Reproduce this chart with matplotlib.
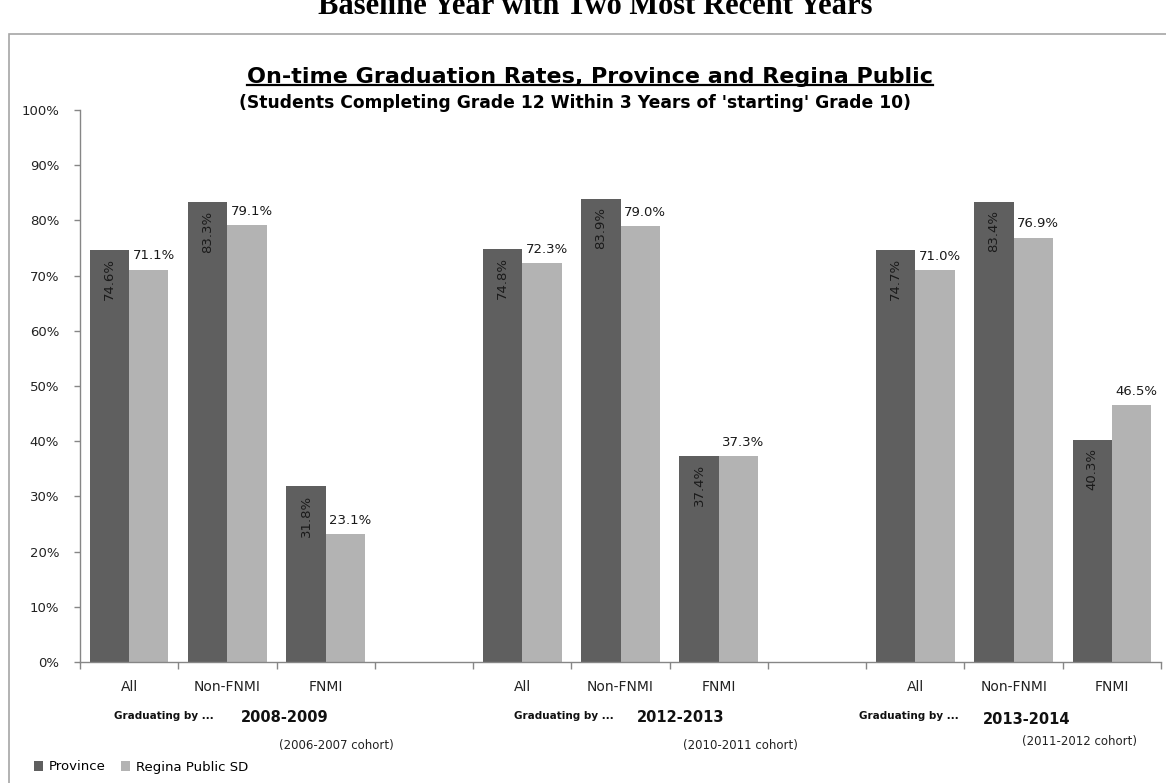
import numpy as np
import matplotlib
matplotlib.use('Agg')
import matplotlib.pyplot as plt
from matplotlib.patches import Rectangle, Patch
from matplotlib.lines import Line2D

### Data
groups     = ['2008-2009', '2012-2013', '2013-2014']
cohorts    = ['(2006-2007 cohort)', '(2010-2011 cohort)', '(2011-2012 cohort)']
categories = ['All', 'Non-FNMI', 'FNMI']
province   = [[74.6, 83.3, 31.8], [74.8, 83.9, 37.4], [74.7, 83.4, 40.3]]
regina     = [[71.1, 79.1, 23.1], [72.3, 79.0, 37.3], [71.0, 76.9, 46.5]]
series     = ['Province', 'Regina Public SD']

### Style
W, H = 1166, 783
c_prov = '#5f5f5f'
c_reg = '#b3b3b3'
c_axis = '#868686'
plt.rcParams['font.family'] = ['DejaVu Sans']

def px(x, y):
    # pixel (from top-left) -> figure fraction
    return x / W, 1 - y / H

fig = plt.figure(figsize=(W / 100, H / 100), dpi=100, facecolor='white')
ax = fig.add_axes([80 / W, (H - 662) / H, (1161 - 80) / W, (662 - 110) / H])

# slot positions: 3 per group, one empty slot between groups
pos = []
for g in range(len(groups)):
    for k in range(len(categories)):
        pos.append(g * 4 + k)
pos = np.array(pos)
prov = np.array(province).ravel()
reg = np.array(regina).ravel()

bw = 0.4
ax.bar(pos - bw / 2, prov, bw, color=c_prov, edgecolor='none')
ax.bar(pos + bw / 2, reg, bw, color=c_reg, edgecolor='none')

for x, v in zip(pos, prov):
    ax.text(x - bw / 2, v - 1.5, '%.1f%%' % v, rotation=90, ha='center', va='top',
            fontsize=9.5, color='#1a1a1a')
for x, v in zip(pos, reg):
    ax.text(x + bw / 2 + 0.05, v + 1.3, '%.1f%%' % v, ha='center', va='bottom',
            fontsize=9.5, color='#1a1a1a')

ax.set_xlim(-0.5, 10.5)
ax.set_ylim(0, 100)
ax.set_yticks(np.arange(0, 101, 10))
ax.set_yticklabels(['%d%%' % t for t in range(0, 101, 10)], fontsize=9.5, color='#222222')
ax.tick_params(axis='y', length=4, width=1, color=c_axis, pad=11)

ax.set_xticks(np.arange(-0.5, 10.6, 1))
ax.set_xticklabels([])
ax.tick_params(axis='x', which='major', length=5, width=1, color=c_axis, direction='out')
ax.set_xticks(pos, minor=True)
ax.set_xticklabels(categories * len(groups), minor=True, fontsize=10, color='#222222')
ax.tick_params(axis='x', which='minor', length=0, pad=13)

for s in ['top', 'right']:
    ax.spines[s].set_visible(False)
for s in ['left', 'bottom']:
    ax.spines[s].set_color(c_axis)
    ax.spines[s].set_linewidth(1)

### Frame around the chart
fig.patches.append(Rectangle(px(9, 800), 2, (800 - 34) / H, transform=fig.transFigure,
                             fill=False, edgecolor='#a6a6a6', linewidth=1.2))

### Page heading (cut off at top, as in the source page)
fig.text(*px(595, 14), 'Baseline Year with Two Most Recent Years', ha='center',
         va='baseline', fontsize=22, fontweight='bold', family=['Liberation Serif', 'DejaVu Serif'])

### Titles
t = fig.text(*px(590, 77), 'On-time Graduation Rates, Province and Regina Public', ha='center',
             va='center', fontsize=16, fontweight='bold')
fig.text(*px(575, 103), "(Students Completing Grade 12 Within 3 Years of 'starting' Grade 10)",
         ha='center', va='center', fontsize=12.3, fontweight='bold')
fig.canvas.draw()
bb = t.get_window_extent().transformed(fig.transFigure.inverted())
fig.add_artist(Line2D([bb.x0, bb.x1], [bb.y0 + 0.002, bb.y0 + 0.002], transform=fig.transFigure,
                      color='black', linewidth=1.6))

### Group labels under the axis
grad_x = [164, 564, 909]
year_x = [285, 681, 1027]
year_y = [717, 717, 719]
coh_x = [336, 740, 1080]
coh_y = [745, 745, 741]
for g in range(len(groups)):
    fig.text(*px(grad_x[g], 716), 'Graduating by ...', ha='center', va='center',
             fontsize=7.5, fontweight='bold', color='#111111')
    fig.text(*px(year_x[g], year_y[g]), groups[g], ha='center', va='center',
             fontsize=10.5, fontweight='bold', color='#111111')
    fig.text(*px(coh_x[g], coh_y[g]), cohorts[g], ha='center', va='center',
             fontsize=8.5, color='#222222')

### Legend
handles = [Patch(facecolor=c_prov), Patch(facecolor=c_reg)]
fig.legend(handles, series, loc='center left', bbox_to_anchor=px(34, 767), ncol=2,
           frameon=False, fontsize=9.5, handlelength=0.7, handleheight=0.7,
           handletextpad=0.4, columnspacing=1.2, borderaxespad=0, borderpad=0)

fig.savefig('out.png', dpi=100, facecolor='white')
